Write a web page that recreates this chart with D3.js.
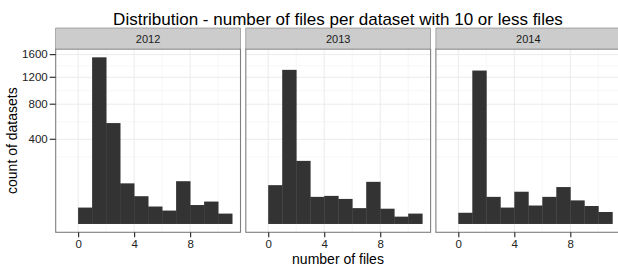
<!DOCTYPE html>
<meta charset="utf-8">
<style>
body { margin: 0; background: #fff; }
svg { display: block; font-family: "Liberation Sans", Arial, Helvetica, sans-serif; }
</style>
<svg width="618" height="268"></svg>
<script src="https://d3js.org/d3.v7.min.js"></script>
<script>

// data: histogram counts, bins of width 1 starting at 0
var years = ["2012", "2013", "2014"];
var binStarts = [0, 1, 2, 3, 4, 5, 6, 7, 8, 9, 10];
var counts2012 = [15, 1549, 568, 92, 43, 17, 10, 102, 20, 28, 6];
var counts2013 = [84, 1325, 222, 41, 44, 35, 14, 99, 13, 3, 6];
var counts2014 = [7, 1313, 41, 15, 58, 19, 41, 76, 31, 18, 8];
var yTicks = [400, 800, 1200, 1600];
var xTicks = [0, 4, 8];

var countsByYear = [counts2012, counts2013, counts2014];

var svg = d3.select("svg"),
    panelLeft = 55.7,
    panelW = 184.8,
    panelGap = 5.3,
    stripTop = 28,
    panelTop = 49,
    panelBottom = 232.3;

var maxCount = d3.max(countsByYear, function(c) { return d3.max(c); });
var sMax = Math.sqrt(maxCount);

// sqrt scale with 5% expansion in transformed space
var yt = d3.scaleLinear()
    .domain([-0.05 * sMax, 1.05 * sMax])
    .range([panelBottom, panelTop]);
function y(v) { return yt(Math.sqrt(v)); }

var x = d3.scaleLinear()
    .domain([-1.6, 11.6])
    .range([0, panelW]);

// minor breaks in transformed space (between majors)
var tb = yTicks.map(Math.sqrt), bd = tb[1] - tb[0];
var tbx = [tb[0] - bd].concat(tb, [tb[tb.length - 1] + bd]);
var yMinor = [];
for (var i = 0; i < tbx.length - 1; i++) yMinor.push((tbx[i] + tbx[i + 1]) / 2);
yMinor = yMinor.filter(function(v) { return v > yt.domain()[0] && v < yt.domain()[1]; });
var xMinor = [2, 6, 10];

years.forEach(function(yr, p) {
  var ox = panelLeft + p * (panelW + panelGap);
  var g = svg.append("g").attr("transform", "translate(" + ox + ",0)");

  g.append("rect")
      .attr("x", 0).attr("y", panelTop)
      .attr("width", panelW).attr("height", panelBottom - panelTop)
      .attr("fill", "#fff");

  g.selectAll(".ymin").data(yMinor).enter().append("line")
      .attr("x1", 0).attr("x2", panelW)
      .attr("y1", function(d) { return yt(d); }).attr("y2", function(d) { return yt(d); })
      .attr("stroke", "#f5f5f5").attr("stroke-width", 0.8);
  g.selectAll(".xmin").data(xMinor).enter().append("line")
      .attr("y1", panelTop).attr("y2", panelBottom)
      .attr("x1", function(d) { return x(d); }).attr("x2", function(d) { return x(d); })
      .attr("stroke", "#f5f5f5").attr("stroke-width", 0.8);
  g.selectAll(".ymaj").data(yTicks).enter().append("line")
      .attr("x1", 0).attr("x2", panelW)
      .attr("y1", function(d) { return y(d); }).attr("y2", function(d) { return y(d); })
      .attr("stroke", "#ebebeb").attr("stroke-width", 1);
  g.selectAll(".xmaj").data(xTicks).enter().append("line")
      .attr("y1", panelTop).attr("y2", panelBottom)
      .attr("x1", function(d) { return x(d); }).attr("x2", function(d) { return x(d); })
      .attr("stroke", "#ebebeb").attr("stroke-width", 1);

  var counts = countsByYear[p];
  g.selectAll(".bar").data(binStarts).enter().append("rect")
      .attr("x", function(d) { return x(d); })
      .attr("width", function(d) { return x(d + 1) - x(d) + 0.4; })
      .attr("y", function(d, i) { return y(counts[i]); })
      .attr("height", function(d, i) { return y(0) - y(counts[i]); })
      .attr("fill", "#333333");

  g.append("rect")
      .attr("x", 0).attr("y", panelTop)
      .attr("width", panelW).attr("height", panelBottom - panelTop)
      .attr("fill", "none").attr("stroke", "#7f7f7f").attr("stroke-width", 1.1);

  // strip
  g.append("rect")
      .attr("x", 0).attr("y", stripTop)
      .attr("width", panelW).attr("height", panelTop - stripTop)
      .attr("fill", "#cccccc").attr("stroke", "#7f7f7f").attr("stroke-width", 0.6);
  g.append("text")
      .attr("x", panelW / 2).attr("y", (stripTop + panelTop) / 2 + 4)
      .attr("text-anchor", "middle")
      .attr("font-size", "11px").attr("fill", "#1a1a1a")
      .text(yr);

  // x axis
  var xa = g.append("g")
      .attr("transform", "translate(0," + panelBottom + ")")
      .call(d3.axisBottom(x).tickValues(xTicks).tickSize(5).tickPadding(3).tickFormat(d3.format("d")));
  xa.select(".domain").remove();
  xa.selectAll("line").attr("stroke", "#333").attr("stroke-width", 1.2);
  xa.selectAll("text").attr("font-size", "11.5px").attr("fill", "#222").attr("font-family", null);
});

// y axis on first panel
var yAxis = svg.append("g")
    .attr("transform", "translate(" + panelLeft + ",0)")
    .call(d3.axisLeft(d3.scaleLinear().domain(yt.domain().map(function(v) { return v * v * Math.sign(v); })).range(yt.range()))
      .tickValues(yTicks).tickSize(6).tickPadding(2).tickFormat(d3.format("d")));
yAxis.select(".domain").remove();
yAxis.selectAll(".tick").attr("transform", function(d) { return "translate(0," + y(d) + ")"; });
yAxis.selectAll("line").attr("stroke", "#333").attr("stroke-width", 1.2);
yAxis.selectAll("text").attr("font-size", "11.5px").attr("fill", "#222").attr("font-family", null);

// titles
svg.append("text")
    .attr("x", 338).attr("y", 24.5)
    .attr("text-anchor", "middle").attr("font-size", "17px").attr("fill", "#000")
    .text("Distribution - number of files per dataset with 10 or less files");
svg.append("text")
    .attr("x", 338).attr("y", 263.5)
    .attr("text-anchor", "middle").attr("font-size", "14px").attr("fill", "#000")
    .text("number of files");
svg.append("text")
    .attr("transform", "translate(17," + ((panelTop + panelBottom) / 2) + ") rotate(-90)")
    .attr("text-anchor", "middle").attr("font-size", "14px").attr("fill", "#000")
    .text("count of datasets");

</script>
